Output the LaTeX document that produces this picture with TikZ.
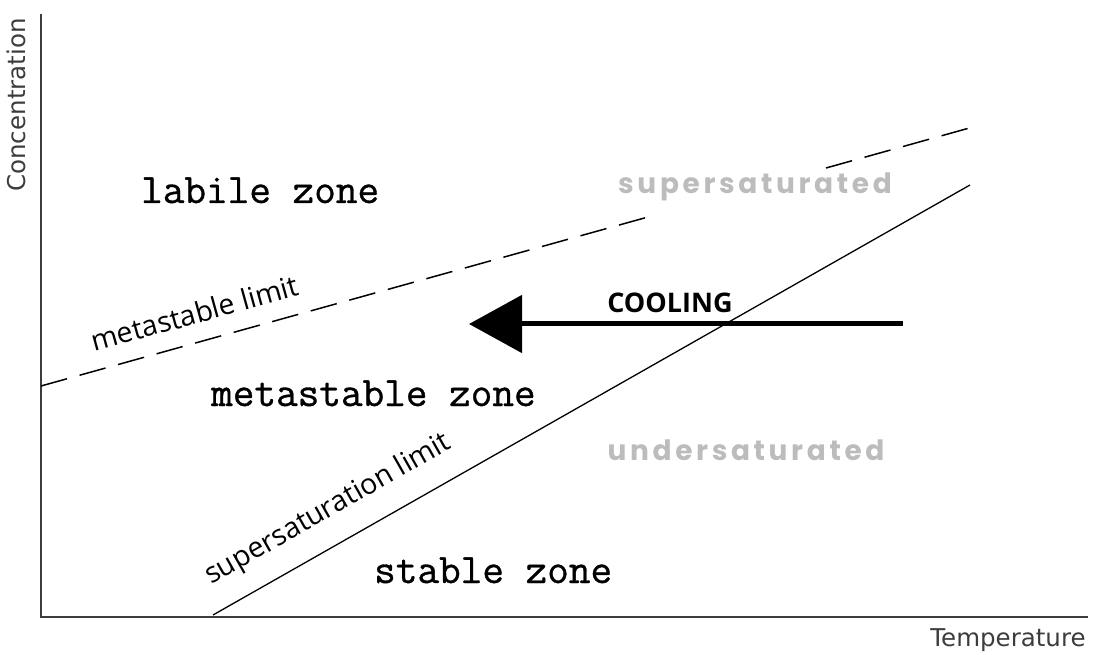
\documentclass[tikz,border=0pt]{standalone}
\usepackage{fontspec}
\usetikzlibrary{arrows.meta}
\setmainfont{Open Sans}
\newfontfamily\axisfont{DejaVu Sans}
\newfontfamily\zonefont[FakeBold=0.8]{Latin Modern Mono}
\newfontfamily\statefont[LetterSpace=13]{Poppins Bold}
\definecolor{axisgray}{RGB}{60,60,60}
\definecolor{stategray}{RGB}{188,188,188}
\tikzset{
  axisline/.style={draw=axisgray, line width=1.6pt},
  axislabel/.style={font=\axisfont\fontsize{24.5}{28}\selectfont, text=axisgray, inner sep=0pt},
  zonelabel/.style={font=\zonefont\fontsize{42}{44}\selectfont, inner sep=0pt, anchor=base west},
  limitlabel/.style={font=\fontsize{28.5}{31}\selectfont, inner sep=0pt, anchor=base west},
  statelabel/.style={font=\statefont\fontsize{28}{30}\selectfont, text=stategray, inner sep=0pt},
  limitline/.style={draw=black, line width=1.3pt},
  metaline/.style={draw=black, line width=1.5pt, dash pattern=on 27pt off 13pt},
  coolarrow/.style={draw=black, line width=5pt, -{Triangle[length=53pt,width=57pt]}}
}
\begin{document}
\begin{tikzpicture}[x=1pt, y=-1pt]
  \useasboundingbox (0,0) rectangle (1096,655);

  % axes
  \coordinate (ytop) at (41,14);
  \coordinate (origin) at (41,617);
  \coordinate (xend) at (1088,617);
  \draw[axisline] (ytop) -- (origin) -- (xend);
  \node[axislabel, rotate=90] (conc) at (16,105) {Concentration};
  \node[axislabel] (temp) at (1008,640) {Temperature};

  % metastable limit (dashed, interrupted near its right end)
  \coordinate (m1) at (41,386);
  \coordinate (m2) at (648,217);
  \coordinate (m3) at (826,168);
  \coordinate (m4) at (973,127);
  \draw[metaline] (m1) -- (m2);
  \draw[metaline] (m3) -- (m4);

  % supersaturation limit (solubility curve)
  \coordinate (s1) at (213,615);
  \coordinate (s2) at (970,185);
  \draw[limitline] (s1) -- (s2);

  % cooling path
  \coordinate (a1) at (903,324);
  \coordinate (a2) at (469,324);
  \draw[coolarrow] (a1) -- (a2);
  \node[font=\bfseries\fontsize{27}{30}\selectfont, inner sep=0pt] (cool) at (670,303) {COOLING};

  % zone names
  \node[zonelabel] (labile) at (141,203) {labile zone};
  \node[zonelabel] (meta) at (211,406) {metastable zone};
  \node[zonelabel] (stable) at (374,583) {stable zone};

  % line labels
  \node[limitlabel, rotate=15.5] (metalim) at (94,352) {metastable limit};
  \node[limitlabel, rotate=29.6] (satlim) at (211,585) {supersaturation limit};

  % solution states
  \node[statelabel] (super) at (755,187) {supersaturated};
  \node[statelabel] (under) at (746,450) {undersaturated};
\end{tikzpicture}
\end{document}
